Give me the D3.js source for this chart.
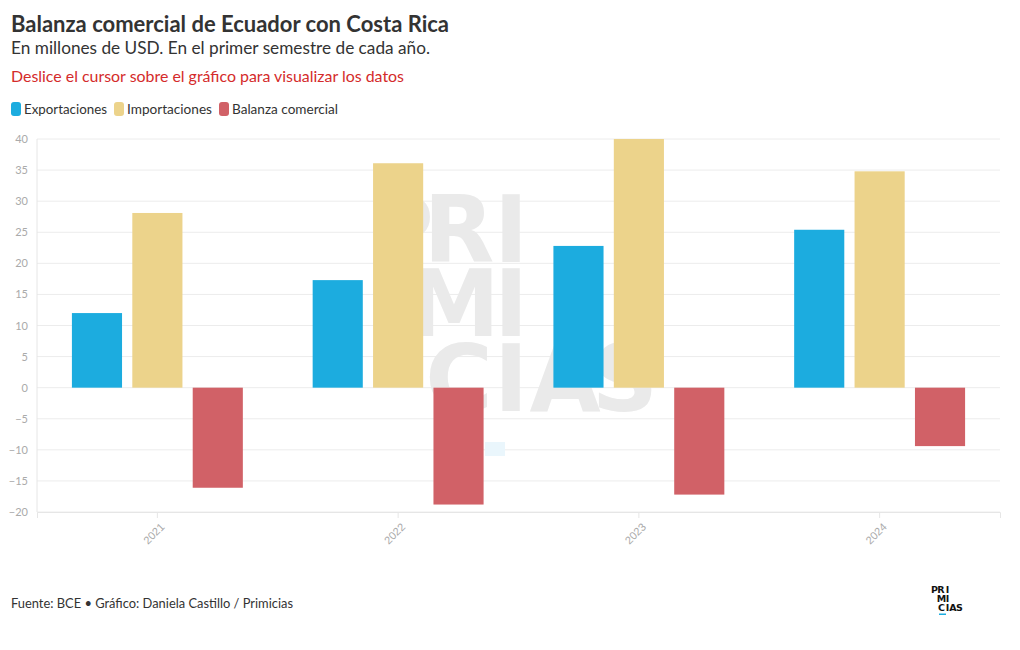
<!DOCTYPE html>
<html><head><meta charset="utf-8">
<script src="https://cdn.jsdelivr.net/npm/d3@7"></script>
<style>
html,body{margin:0;padding:0;background:#fff;}
svg{display:block;font-family:"Lato","Noto Sans",sans-serif;}
</style></head>
<body>
<svg id="chart" width="1020" height="650"></svg>
<script>
const years = ["2021","2022","2023","2024"];
const seriesNames = ["Exportaciones","Importaciones","Balanza comercial"];
const exportaciones = [12.0, 17.3, 22.8, 25.4];
const importaciones = [28.1, 36.1, 40.0, 34.8];
const balanza = [-16.1, -18.8, -17.2, -9.4];
const yTicks = [-20,-15,-10,-5,0,5,10,15,20,25,30,35,40];
const colors = ["#1cacdf","#ecd38b","#d16167"];

const seriesValues = [exportaciones, importaciones, balanza];
const data = years.map((y,i)=>({year:y, values: seriesNames.map((s,j)=>({key:s, value:seriesValues[j][i]}))}));

const svg = d3.select("#chart");
const L=37, R=1000, T=139, B=512;

// header
svg.append("text").attr("x",11).attr("y",32).attr("font-size",22.5).attr("font-weight",700).attr("fill","#333")
  .attr("textLength",438).attr("lengthAdjust","spacingAndGlyphs")
  .text("Balanza comercial de Ecuador con Costa Rica");
svg.append("text").attr("x",11).attr("y",54).attr("font-size",17).attr("fill","#333")
  .attr("textLength",419).attr("lengthAdjust","spacingAndGlyphs")
  .text("En millones de USD. En el primer semestre de cada año.");
svg.append("text").attr("x",11).attr("y",82).attr("font-size",15).attr("fill","#d42b2b")
  .attr("textLength",393).attr("lengthAdjust","spacingAndGlyphs")
  .text("Deslice el cursor sobre el gráfico para visualizar los datos");

// legend
const legX=[11,114,219], legW=[83,85,106];
seriesNames.forEach((s,i)=>{
  svg.append("rect").attr("x",legX[i]).attr("y",102).attr("width",10).attr("height",14).attr("rx",3).attr("fill",colors[i]);
  svg.append("text").attr("x",legX[i]+13).attr("y",114).attr("font-size",13).attr("fill","#333")
    .attr("textLength",legW[i]).attr("lengthAdjust","spacingAndGlyphs").text(s);
});

// scales
const y = d3.scaleLinear().domain([-20,40]).range([B,T]);
const x0 = d3.scaleBand().domain(years).range([L,R]).paddingInner(0.29).paddingOuter(0.145);
const x1 = d3.scaleBand().domain(seriesNames).range([0,x0.bandwidth()]).paddingInner(0.17);
const color = d3.scaleOrdinal().domain(seriesNames).range(colors);

// gridlines
svg.append("g").selectAll("line").data(yTicks).join("line")
  .attr("x1",L).attr("x2",R).attr("y1",d=>y(d)).attr("y2",d=>y(d))
  .attr("stroke","#ececec").attr("stroke-width",1);
svg.append("line").attr("x1",L).attr("x2",L).attr("y1",T).attr("y2",B).attr("stroke","#e6e6e6");

// watermark (single text element with positioned tspans)
const wm = svg.append("text").attr("fill","#eaeaea").attr("font-weight",700).attr("font-size",92)
  .attr("text-anchor","middle")
  .attr("font-family","'DejaVu Sans','Noto Sans',sans-serif");
const wmLetters=[["P",400,262],["R",459,262],["I",511,262],["M",454,336],["I",511,336],["C",459,411],["I",511,411],["A",565,411],["S",625,411]];
wmLetters.forEach(([t,cx,by])=>wm.append("tspan").attr("x",cx).attr("y",by).text(t));
svg.append("rect").attr("x",485).attr("y",442).attr("width",20).attr("height",14).attr("fill","#eaf6fc");

// y axis
const yAxis = d3.axisLeft(y).tickValues(yTicks).tickSize(0).tickPadding(9);
const gy = svg.append("g").attr("transform",`translate(${L},0)`).call(yAxis);
gy.select(".domain").remove();
gy.selectAll("text").attr("font-size",11).attr("fill","#aaa").attr("font-family","'Lato',sans-serif");

// x axis
const xAxis = d3.axisBottom(x0).tickSize(6).tickPadding(4);
const gx = svg.append("g").attr("transform",`translate(0,${B})`).call(xAxis);
gx.select(".domain").attr("stroke","#e6e6e6");
gx.selectAll(".tick line").attr("stroke","#e6e6e6");
gx.selectAll("text").attr("font-size",11).attr("fill","#aaa")
  .attr("text-anchor","end").attr("dx","-0.5em").attr("dy","0.6em")
  .attr("transform","rotate(-45)");

// bars
const groups = svg.append("g").selectAll("g").data(data).join("g")
  .attr("transform",d=>`translate(${x0(d.year)},0)`);
groups.selectAll("rect").data(d=>d.values).join("rect")
  .attr("x",d=>x1(d.key)).attr("width",x1.bandwidth())
  .attr("y",d=>y(Math.max(0,d.value))).attr("height",d=>Math.abs(y(d.value)-y(0)))
  .attr("fill",d=>color(d.key));

// footer
svg.append("text").attr("x",11).attr("y",608).attr("font-size",13).attr("fill","#333")
  .attr("textLength",282).attr("lengthAdjust","spacingAndGlyphs")
  .text("Fuente: BCE • Gráfico: Daniela Castillo / Primicias");

// small logo (single text element)
const lg = svg.append("text").attr("fill","#111").attr("font-weight",700).attr("font-size",9.5)
  .attr("text-anchor","middle")
  .attr("font-family","'DejaVu Sans',sans-serif");
const lgLetters=[["P",934.5,593],["R",941,593],["I",947.5,593],["M",941.5,602],["I",947.5,602],["C",941.5,611],["I",947.5,611],["A",953,611],["S",959.5,611]];
lgLetters.forEach(([t,cx,by])=>lg.append("tspan").attr("x",cx).attr("y",by).text(t));
svg.append("rect").attr("x",939).attr("y",613.5).attr("width",7).attr("height",1.5).attr("fill","#1cacdf");
</script>
</body></html>
